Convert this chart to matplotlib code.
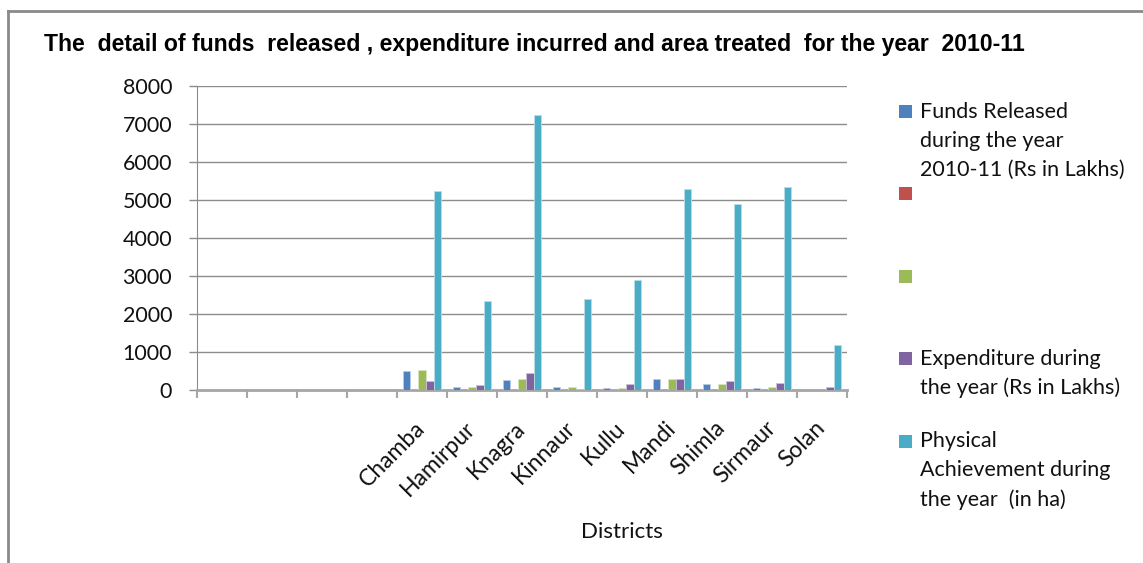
import matplotlib.pyplot as plt
import numpy as np
from matplotlib.lines import Line2D
from matplotlib.patches import Rectangle

# district-wise figures for 2010-11 (first four category slots are blank)
districts = ["", "", "", "", "Chamba", "Hamirpur", "Knagra", "Kinnaur", "Kullu",
             "Mandi", "Shimla", "Sirmaur", "Solan"]
funds_released = [0, 0, 0, 0, 490, 70, 270, 70, 40, 300, 165, 40, 0]
series_2 = [0, 0, 0, 0, 10, 0, 10, 0, 0, 10, 0, 0, 0]
series_3 = [0, 0, 0, 0, 515, 70, 300, 70, 40, 300, 165, 70, 0]
expenditure = [0, 0, 0, 0, 245, 125, 450, 25, 165, 300, 245, 190, 70]
physical_ha = [0, 0, 0, 0, 5245, 2350, 7240, 2395, 2905, 5280, 4895, 5335, 1190]

series_labels = [
    "Funds Released\nduring the year\n2010-11 (Rs in Lakhs)",
    "",
    "",
    "Expenditure during\nthe year (Rs in Lakhs)",
    "Physical\nAchievement during\nthe year  (in ha)",
]
colors = ["#4F81BD", "#C0504D", "#9BBB59", "#8064A2", "#4BACC6"]
edge_colors = ["#b8cce4", "#e6b9b8", "#d7e4bd", "#ccc1da", "#b7dee8"]

W, H = 1143, 563
fig = plt.figure(figsize=(W / 100, H / 100), dpi=100)
fig.patch.set_facecolor("white")

ax = fig.add_axes([197 / W, 1 - 390 / H, 650 / W, 304 / H])

x = np.arange(len(districts))
width = 1 / 6.5
all_series = [funds_released, series_2, series_3, expenditure, physical_ha]
for i, (vals, c, ec) in enumerate(zip(all_series, colors, edge_colors)):
    ax.bar(x + (i - 2) * width, vals, width=width, color=c, edgecolor=ec,
           linewidth=0.6, zorder=3)

ax.set_xlim(-0.5, len(districts) - 0.5)
ax.set_ylim(0, 8000)
ax.set_yticks(range(0, 8001, 1000))
ax.yaxis.grid(True, color="#8c8c8c", linewidth=1.0)
ax.set_axisbelow(True)

lab_font = dict(family="Lato", size=15.5, color="#111111")
ax.tick_params(axis="y", length=6, width=1, color="#8c8c8c", pad=12,
               labelsize=15.5, labelcolor="#111111")
for t in ax.get_yticklabels():
    t.set_family("Lato")

# category labels at the centres, tick marks between categories
ax.set_xticks(x)
ax.set_xticklabels(districts, rotation=45, ha="right", va="center",
                   rotation_mode="anchor", family="Lato", size=16.5, color="#111111")
ax.tick_params(axis="x", which="major", length=0, pad=25)
ax.set_xticks(np.arange(-0.5, len(districts)), minor=True)
ax.tick_params(axis="x", which="minor", length=6, width=1.5, color="#a6a6a6")

for s in ["top", "right"]:
    ax.spines[s].set_visible(False)
ax.spines["left"].set_color("#8c8c8c")
ax.spines["bottom"].set_color("#a6a6a6")
ax.spines["bottom"].set_linewidth(2)

fig.text(622 / W, 1 - 532 / H, "Districts", ha="center", va="center",
         family="Lato", size=16, color="#111111")

fig.text(534 / W, 1 - 45 / H,
         "The  detail of funds  released , expenditure incurred and area treated  for the year  2010-11",
         ha="center", va="center", family="Liberation Sans", weight="bold", size=16.6)

# legend drawn by hand so the entries keep their spacing
for i, (lab, c) in enumerate(zip(series_labels, colors)):
    y0 = 111.5 + i * 82.4
    fig.patches.append(Rectangle((899 / W, 1 - (y0 + 6.5) / H), 13 / W, 13 / H,
                                 transform=fig.transFigure, facecolor=c,
                                 edgecolor="none"))
    for j, line in enumerate(lab.split("\n")):
        fig.text(920 / W, 1 - (y0 + j * 29.3) / H, line, ha="left", va="center",
                 **lab_font)

# chart frame
fig.lines.append(Line2D([8 / W, 1], [1 - 11 / H, 1 - 11 / H], transform=fig.transFigure,
                        color="#8a8a8a", linewidth=2))
fig.lines.append(Line2D([8 / W, 8 / W], [0, 1 - 11 / H], transform=fig.transFigure,
                        color="#8a8a8a", linewidth=2))

fig.savefig("out.png", dpi=100)
